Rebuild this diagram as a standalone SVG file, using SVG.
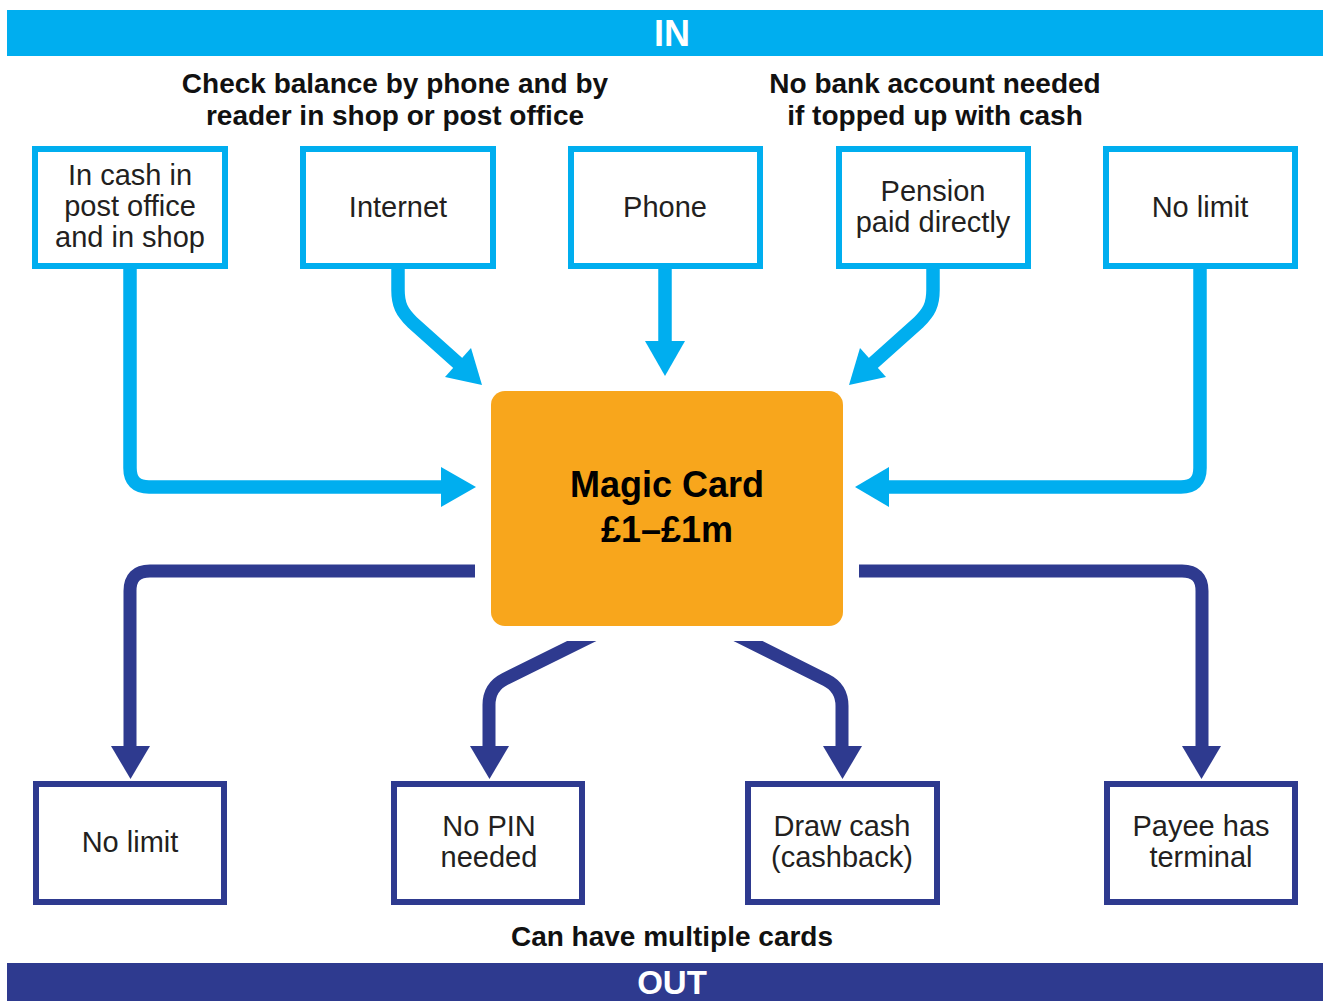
<svg xmlns="http://www.w3.org/2000/svg" width="1324" height="1001" viewBox="0 0 1324 1001">
<defs>
<style>
.bar-in{fill:#00AEEF}
.bar-out{fill:#2E3A8F}
.bartxt{font-family:"Liberation Sans",Arial,sans-serif;font-weight:bold;font-size:36px;fill:#fff;text-anchor:middle}
.head{font-family:"Liberation Sans",Arial,sans-serif;font-weight:bold;font-size:28px;fill:#111;text-anchor:middle}
.box-in{fill:#fff;stroke:#00AEEF;stroke-width:6}
.box-out{fill:#fff;stroke:#2E3A8F;stroke-width:6}
.lbl{font-family:"Liberation Sans",Arial,sans-serif;font-size:29px;fill:#231F20;text-anchor:middle}
.card{fill:#F8A61C}
.cardtxt{font-family:"Liberation Sans",Arial,sans-serif;font-weight:bold;font-size:36px;fill:#000;text-anchor:middle}
.lin{fill:none;stroke:#00AEEF;stroke-width:13.5}
.lout{fill:none;stroke:#2E3A8F;stroke-width:13}
.hin{fill:#00AEEF}
.hout{fill:#2E3A8F}
</style>
<clipPath id="below"><rect x="0" y="641" width="1324" height="400"/></clipPath>
</defs>
<rect width="1324" height="1001" fill="#fff"/>

<g id="bar-in">
<rect class="bar-in" x="7" y="10" width="1316" height="46"/>
<text class="bartxt" x="672" y="46">IN</text>
</g>
<g id="heading-left">
<text class="head" x="395" y="93">Check balance by phone and by</text>
<text class="head" x="395" y="125">reader in shop or post office</text>
</g>
<g id="heading-right">
<text class="head" x="935" y="93">No bank account needed</text>
<text class="head" x="935" y="125">if topped up with cash</text>
</g>

<g id="connectors">
<path class="lin" d="M130 266 V468 Q130 487 149 487 H445"/>
<polygon class="hin" points="441,467 441,507 476,487"/>
<path class="lin" d="M398 266 V290 C398 305 402 312 412 322 L460 365"/>
<polygon class="hin" points="471,348 445,377 482,385"/>
<path class="lin" d="M665 266 V343"/>
<polygon class="hin" points="645,341 685,341 665,376"/>
<path class="lin" d="M933 266 V290 C933 305 929 312 919 322 L871 365"/>
<polygon class="hin" points="860,348 886,377 849,385"/>
<path class="lin" d="M1200 266 V468 Q1200 487 1181 487 H886"/>
<polygon class="hin" points="889,467 889,507 855,487"/>

<path class="lout" d="M475 571 H150 Q130 571 130 591 V748"/>
<polygon class="hout" points="111,746 150,746 130.5,779"/>
<path class="lout" clip-path="url(#below)" d="M604 630 L505 679 Q489 687 489 705 V748"/>
<polygon class="hout" points="470,746 509,746 489.5,779"/>
<path class="lout" clip-path="url(#below)" d="M726 630 L826 680 Q842 688 842 706 V748"/>
<polygon class="hout" points="823,746 862,746 842.5,779"/>
<path class="lout" d="M859 571 H1182 Q1202 571 1202 591 V748"/>
<polygon class="hout" points="1182,746 1221,746 1201.5,779"/>
</g>

<g id="in-cash">
<rect class="box-in" x="35" y="149" width="190" height="117"/>
<text class="lbl" x="130" y="185">In cash in</text>
<text class="lbl" x="130" y="216">post office</text>
<text class="lbl" x="130" y="247">and in shop</text>
</g>
<g id="internet">
<rect class="box-in" x="303" y="149" width="190" height="117"/>
<text class="lbl" x="398" y="217">Internet</text>
</g>
<g id="phone">
<rect class="box-in" x="571" y="149" width="189" height="117"/>
<text class="lbl" x="665" y="217">Phone</text>
</g>
<g id="pension">
<rect class="box-in" x="839" y="149" width="189" height="117"/>
<text class="lbl" x="933" y="201">Pension</text>
<text class="lbl" x="933" y="232">paid directly</text>
</g>
<g id="no-limit-in">
<rect class="box-in" x="1106" y="149" width="189" height="117"/>
<text class="lbl" x="1200" y="217">No limit</text>
</g>

<g id="magic-card">
<rect class="card" x="491" y="391" width="352" height="235" rx="14"/>
<text class="cardtxt" x="667" y="497">Magic Card</text>
<text class="cardtxt" x="667" y="542">£1–£1m</text>
</g>

<g id="no-limit-out">
<rect class="box-out" x="36" y="784" width="188" height="118"/>
<text class="lbl" x="130" y="852">No limit</text>
</g>
<g id="no-pin">
<rect class="box-out" x="394" y="784" width="188" height="118"/>
<text class="lbl" x="489" y="836">No PIN</text>
<text class="lbl" x="489" y="867">needed</text>
</g>
<g id="draw-cash">
<rect class="box-out" x="748" y="784" width="189" height="118"/>
<text class="lbl" x="842" y="836">Draw cash</text>
<text class="lbl" x="842" y="867">(cashback)</text>
</g>
<g id="payee">
<rect class="box-out" x="1107" y="784" width="188" height="118"/>
<text class="lbl" x="1201" y="836">Payee has</text>
<text class="lbl" x="1201" y="867">terminal</text>
</g>

<g id="footer-note">
<text class="head" x="672" y="946">Can have multiple cards</text>
</g>
<g id="bar-out">
<rect class="bar-out" x="7" y="963" width="1316" height="38"/>
<text class="bartxt" x="672" y="994" style="font-size:33px">OUT</text>
</g>
</svg>
